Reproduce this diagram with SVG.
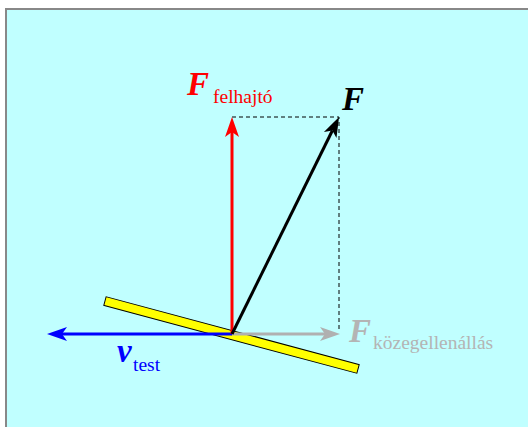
<svg xmlns="http://www.w3.org/2000/svg" width="528" height="427" viewBox="0 0 528 427">
<style>
.main{font-family:"Liberation Serif","Times New Roman",serif;font-weight:bold;font-style:italic;font-size:33px}
.sub{font-family:"Liberation Serif","Times New Roman",serif;font-size:19.5px}
.vec{stroke-width:3;fill:none}
.dash{stroke:#000;stroke-width:1;stroke-dasharray:4 3;fill:none}
</style>
<defs>
<marker id="hRed" markerUnits="userSpaceOnUse" markerWidth="20" markerHeight="14" refX="5" refY="7" orient="auto" overflow="visible"><path d="M0,0 L20,7 L0,14 L5,7 Z" fill="#ff0000"/></marker>
<marker id="hBlack" markerUnits="userSpaceOnUse" markerWidth="20" markerHeight="14" refX="5" refY="7" orient="auto" overflow="visible"><path d="M0,0 L20,7 L0,14 L5,7 Z" fill="#000"/></marker>
<marker id="hBlue" markerUnits="userSpaceOnUse" markerWidth="20" markerHeight="14" refX="5" refY="7" orient="auto" overflow="visible"><path d="M0,0 L20,7 L0,14 L5,7 Z" fill="#0000ff"/></marker>
<marker id="hGray" markerUnits="userSpaceOnUse" markerWidth="20" markerHeight="14" refX="5" refY="7" orient="auto" overflow="visible"><path d="M0,0 L20,7 L0,14 L5,7 Z" fill="#b0b0b0"/></marker>
</defs>
<rect x="0" y="0" width="528" height="427" fill="#fff"/>
<rect x="6" y="9" width="530" height="430" fill="#c0ffff" stroke="#888" stroke-width="2"/>
<g id="plank">
<rect x="100" y="-4.5" width="262" height="9" transform="translate(231.5,335) rotate(15) translate(-231,0)" fill="#ffff00" stroke="#000" stroke-width="1"/>
</g>
<g id="connectors">
<path class="dash" d="M232,117 H339 V332"/>
<path class="vec" stroke="#0000ff" d="M232,334 H62" marker-end="url(#hBlue)"/>
<path class="vec" stroke="#b0b0b0" d="M232,334 H325" marker-end="url(#hGray)"/>
<path class="vec" stroke="#ff0000" d="M232,334 V132" marker-end="url(#hRed)"/>
<path class="vec" stroke="#000" d="M232,334 L332.4,130.5" marker-end="url(#hBlack)"/>
</g>
<g id="label-felhajto">
<text class="main" x="187" y="95" fill="#ff0000">F</text>
<text class="sub" x="213" y="103" fill="#ff0000">felhajtó</text>
</g>
<g id="label-F">
<text class="main" x="342" y="110" fill="#000">F</text>
</g>
<g id="label-kozeg">
<text class="main" x="349" y="342" fill="#b4b4b4">F</text>
<text class="sub" x="373" y="349" fill="#b4b4b4">közegellenállás</text>
</g>
<g id="label-v">
<text class="main" x="117" y="362" fill="#0000ff">v</text>
<text class="sub" x="133" y="371" fill="#0000ff">test</text>
</g>
</svg>
